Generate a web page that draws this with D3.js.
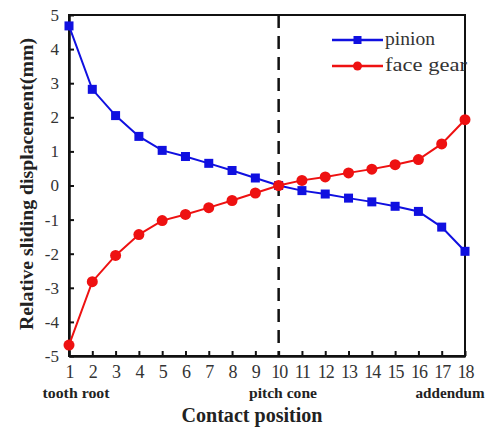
<!DOCTYPE html>
<html>
<head>
<meta charset="utf-8">
<script src="https://cdn.jsdelivr.net/npm/d3@7"></script>
<style>
  html, body { margin: 0; padding: 0; background: #fff; }
</style>
</head>
<body>
<svg id="chart" width="485" height="431"></svg>
<script>
// Contact positions along the tooth flank
const positions = [1, 2, 3, 4, 5, 6, 7, 8, 9, 10, 11, 12, 13, 14, 15, 16, 17, 18];
// Relative sliding displacement (mm)
const pinion = [4.68, 2.82, 2.05, 1.44, 1.03, 0.85, 0.65, 0.44, 0.22, 0, -0.15, -0.25, -0.37, -0.48, -0.61, -0.76, -1.22, -1.93];
const faceGear = [-4.68, -2.82, -2.05, -1.44, -1.03, -0.85, -0.65, -0.44, -0.22, 0, 0.15, 0.25, 0.37, 0.48, 0.61, 0.76, 1.22, 1.93];
const yTicks = [-5, -4, -3, -2, -1, 0, 1, 2, 3, 4, 5];
const seriesNames = ["pinion", "face gear"];
const regionLabels = [
  { pos: 1, text: "tooth root" },
  { pos: 10, text: "pitch cone" },
  { pos: 18, text: "addendum" }
];
const pitchPosition = 10;

const FONT = '"Liberation Serif", "Times New Roman", serif';
const svg = d3.select("#chart");
const plotLeft = 69, plotRight = 465, plotTop = 15, plotBottom = 356;

const x = d3.scaleLinear().domain([1, 18]).range([plotLeft, plotRight]);
const y = d3.scaleLinear().domain([-5, 5]).range([plotBottom, plotTop]);

const blue = "#1010e0", red = "#ee1111";

// frame
svg.append("rect")
  .attr("x", plotLeft).attr("y", plotTop)
  .attr("width", plotRight - plotLeft).attr("height", plotBottom - plotTop)
  .attr("fill", "none").attr("stroke", "#111").attr("stroke-width", 2);

// bottom axis, ticks pointing inward
const xAxis = d3.axisBottom(x).tickValues(positions).tickSizeInner(-5).tickSizeOuter(0).tickPadding(9);
const gx = svg.append("g").attr("transform", `translate(0,${plotBottom})`).call(xAxis);
gx.select(".domain").attr("stroke", "#111").attr("stroke-width", 2.5);
gx.selectAll(".tick line").attr("stroke", "#111").attr("stroke-width", 2);
gx.selectAll(".tick text")
  .style("font-family", FONT).style("font-size", "18px").attr("fill", "#333")
  .attr("letter-spacing", "-1px");

// left axis, ticks pointing inward
const yAxis = d3.axisLeft(y).tickValues(yTicks).tickSizeInner(-5).tickSizeOuter(0).tickPadding(10)
  .tickFormat(d => d < 0 ? "-" + Math.abs(d) : String(d));
const gy = svg.append("g").attr("transform", `translate(${plotLeft},0)`).call(yAxis);
gy.select(".domain").attr("stroke", "#111").attr("stroke-width", 2.5);
gy.selectAll(".tick line").attr("stroke", "#111").attr("stroke-width", 2);
gy.selectAll(".tick text")
  .style("font-family", FONT).style("font-size", "17px").attr("fill", "#333");

// pitch cone divider
svg.append("line")
  .attr("x1", x(pitchPosition)).attr("x2", x(pitchPosition))
  .attr("y1", plotTop).attr("y2", plotBottom)
  .attr("stroke", "#111").attr("stroke-width", 2.5)
  .attr("stroke-dasharray", "13,8");

const line = d3.line().x((d, i) => x(positions[i])).y(d => y(d));

// pinion series
svg.append("path").datum(pinion)
  .attr("d", line).attr("fill", "none").attr("stroke", blue).attr("stroke-width", 2);
svg.append("g").selectAll("rect").data(pinion).join("rect")
  .attr("x", (d, i) => x(positions[i]) - 4.5)
  .attr("y", d => y(d) - 4.5)
  .attr("width", 9).attr("height", 9)
  .attr("fill", blue);

// face gear series
svg.append("path").datum(faceGear)
  .attr("d", line).attr("fill", "none").attr("stroke", red).attr("stroke-width", 2);
svg.append("g").selectAll("circle").data(faceGear).join("circle")
  .attr("cx", (d, i) => x(positions[i]))
  .attr("cy", d => y(d))
  .attr("r", 5.5)
  .attr("fill", red);

// legend
const legend = svg.append("g");
const legendItems = [
  { name: seriesNames[0], color: blue, shape: "square", yy: 40, len: 50 },
  { name: seriesNames[1], color: red, shape: "circle", yy: 66, len: 82 }
];
legendItems.forEach(it => {
  legend.append("line")
    .attr("x1", 332).attr("x2", 383).attr("y1", it.yy).attr("y2", it.yy)
    .attr("stroke", it.color).attr("stroke-width", 2.5);
  if (it.shape === "square") {
    legend.append("rect").attr("x", 357.5 - 4).attr("y", it.yy - 4)
      .attr("width", 8).attr("height", 8).attr("fill", it.color);
  } else {
    legend.append("circle").attr("cx", 357.5).attr("cy", it.yy).attr("r", 4.5).attr("fill", it.color);
  }
  legend.append("text")
    .attr("x", 385).attr("y", it.yy + 5)
    .style("font-family", FONT).style("font-size", "18px").attr("fill", "#333")
    .attr("textLength", it.len).attr("lengthAdjust", "spacingAndGlyphs")
    .text(it.name);
});

// region labels below the axis
const regionGeom = { 1: { cx: 76, w: 67 }, 10: { cx: 283, w: 68 }, 18: { cx: 450, w: 69 } };
svg.append("g").selectAll("text").data(regionLabels).join("text")
  .attr("x", d => regionGeom[d.pos].cx)
  .attr("y", 398)
  .attr("text-anchor", "middle")
  .attr("textLength", d => regionGeom[d.pos].w).attr("lengthAdjust", "spacingAndGlyphs")
  .style("font-family", FONT).style("font-size", "14px").style("font-weight", "bold").attr("fill", "#222")
  .text(d => d.text);

// axis titles
svg.append("text")
  .attr("x", 252).attr("y", 422)
  .attr("text-anchor", "middle")
  .attr("textLength", 141).attr("lengthAdjust", "spacingAndGlyphs")
  .style("font-family", FONT).style("font-size", "20px").style("font-weight", "bold").attr("fill", "#222")
  .text("Contact position");

svg.append("text")
  .attr("transform", `translate(33,184) rotate(-90)`)
  .attr("text-anchor", "middle")
  .attr("textLength", 292).attr("lengthAdjust", "spacingAndGlyphs")
  .style("font-family", FONT).style("font-size", "18px").style("font-weight", "bold").attr("fill", "#222")
  .text("Relative sliding displacement(mm)");
</script>
</body>
</html>
